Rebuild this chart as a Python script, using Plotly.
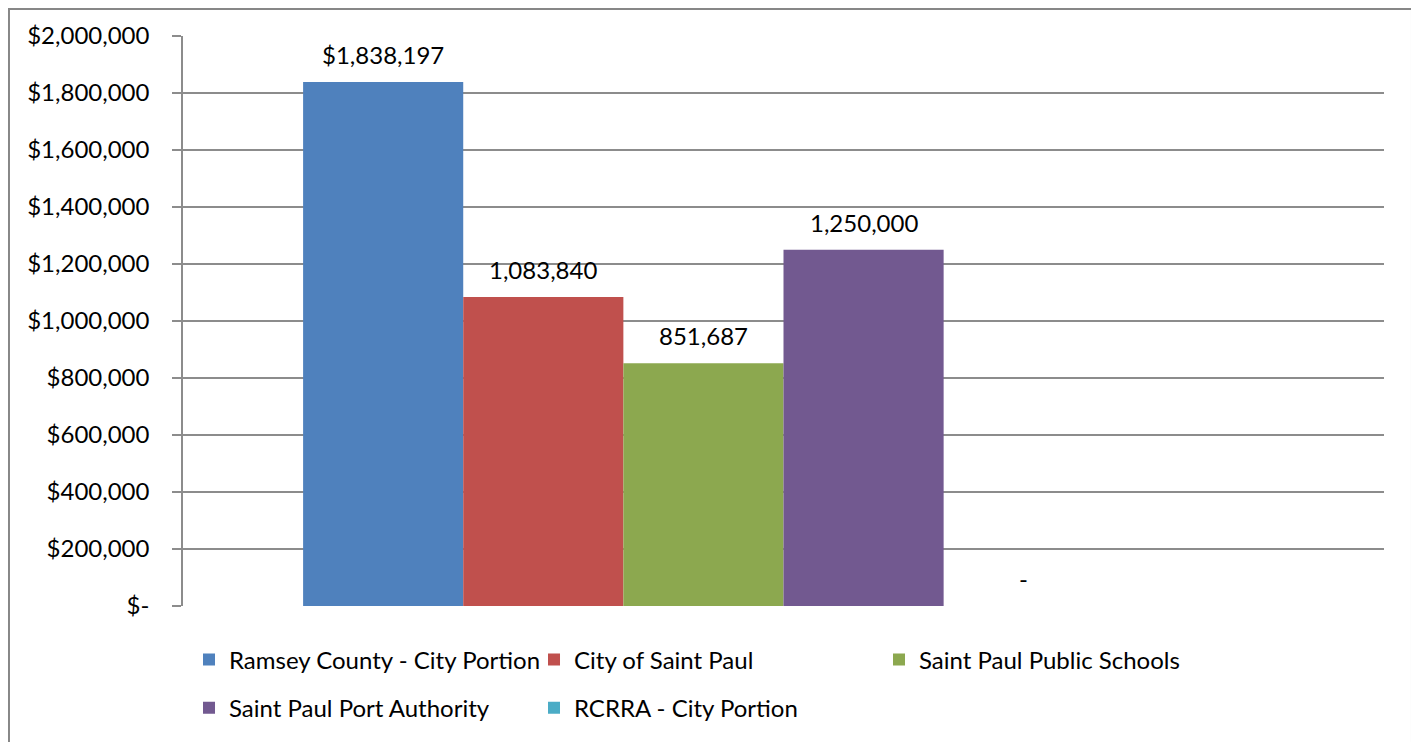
import plotly.graph_objects as go

series_names = ["Ramsey County - City Portion", "City of Saint Paul", "Saint Paul Public Schools",
                "Saint Paul Port Authority", "RCRRA - City Portion"]
series_values = [1838197, 1083840, 851687, 1250000, 0]
series_labels = ["$1,838,197", "1,083,840", "851,687", "1,250,000", "-"]
series_colors = ["#4F81BD", "#C0504D", "#8CA84F", "#725990", "#4BACC6"]
legend_rows = ["legend", "legend", "legend", "legend2", "legend2"]
slot_count = 6  # the chart's series slots (one empty slot at the right)

y_ticks = [0, 200000, 400000, 600000, 800000, 1000000, 1200000, 1400000, 1600000, 1800000, 2000000]
y_ticktext = ["$-", "$200,000", "$400,000", "$600,000", "$800,000", "$1,000,000", "$1,200,000",
              "$1,400,000", "$1,600,000", "$1,800,000", "$2,000,000"]

FONT = "Lato, 'Open Sans', sans-serif"
FS = 24

# slot layout: group takes 80% of the category width
center = (slot_count - 1) / 2
half_range = slot_count / 0.8 / 2
x_range = [center - half_range, center + half_range]

fig = go.Figure()
annotations = []
for i, (name, val, lab, col, lg) in enumerate(zip(series_names, series_values, series_labels,
                                                   series_colors, legend_rows)):
    fig.add_trace(go.Bar(
        x=[i], y=[val], name=name, width=1, marker=dict(color=col, line=dict(width=0)),
        legend=lg, hoverinfo="name+y",
    ))
    annotations.append(dict(x=i, y=val, xref="x", yref="y", text=lab, showarrow=False,
                            yanchor="bottom", yshift=11,
                            font=dict(size=FS, family=FONT, color="#000000")))

fig.update_layout(
    width=1411, height=734,
    margin=dict(l=175, r=35, t=28, b=136),
    paper_bgcolor="#FFFFFF", plot_bgcolor="#FFFFFF",
    barmode="overlay",
    font=dict(family=FONT, size=FS, color="#000000"),
    xaxis=dict(range=x_range, showticklabels=False, showgrid=False, zeroline=False,
               showline=False, ticks="", fixedrange=True),
    yaxis=dict(range=[0, 2000000], tickvals=y_ticks, ticktext=y_ticktext,
               showgrid=True, gridcolor="#8C8C8C", gridwidth=1.5,
               showline=True, linecolor="#8C8C8C", linewidth=1.5,
               ticks="outside", ticklen=9, tickcolor="#8C8C8C", tickwidth=1.5,
               zeroline=False, tickfont=dict(size=FS, family=FONT), ticklabelstandoff=18),
    legend=dict(orientation="h", x=0.005, xanchor="left", y=-0.0947, yanchor="middle",
                entrywidth=300, entrywidthmode="pixels", font=dict(size=FS, family=FONT),
                bgcolor="rgba(0,0,0,0)", traceorder="normal"),
    legend2=dict(orientation="h", x=0.005, xanchor="left", y=-0.179, yanchor="middle",
                 entrywidth=300, entrywidthmode="pixels", font=dict(size=FS, family=FONT),
                 bgcolor="rgba(0,0,0,0)", traceorder="normal"),
    annotations=annotations,
    shapes=[dict(type="rect", xref="paper", yref="paper", x0=-0.1449, x1=1.0233, y0=-0.26, y1=1.0474,
                 line=dict(color="#878787", width=2), fillcolor="rgba(0,0,0,0)", layer="below")],
)

fig.write_html("out.html")
